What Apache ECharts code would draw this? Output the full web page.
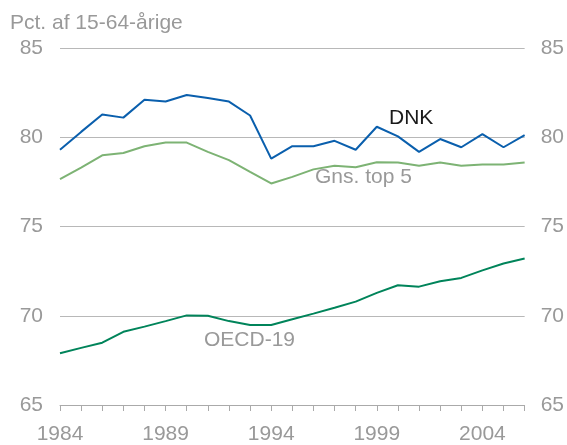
<!DOCTYPE html>
<html>
<head>
<meta charset="utf-8">
<script src="https://cdn.jsdelivr.net/npm/echarts@6/dist/echarts.min.js"></script>
<style>
    html, body { margin: 0; padding: 0; background: #fff; }
    #chart { width: 567px; height: 445px; }
</style>
</head>
<body>
<div id="chart"></div>
<script>
'use strict';

var years = ['1984', '1985', '1986', '1987', '1988', '1989', '1990', '1991', '1992', '1993', '1994',
    '1995', '1996', '1997', '1998', '1999', '2000', '2001', '2002', '2003', '2004', '2005', '2006'];

var dnk = [79.3, 80.3, 81.28, 81.1, 82.1, 82.0, 82.37, 82.2, 82.0, 81.22, 78.8,
    79.5, 79.5, 79.8, 79.3, 80.59, 80.05, 79.18, 79.9, 79.44, 80.18, 79.44, 80.12];

var top5 = [77.65, 78.3, 78.99, 79.12, 79.5, 79.7, 79.7, 79.18, 78.72, 78.06, 77.41,
    77.78, 78.2, 78.4, 78.32, 78.6, 78.58, 78.4, 78.58, 78.4, 78.47, 78.47, 78.58];

var oecd = [67.9, 68.2, 68.49, 69.1, 69.39, 69.7, 70.02, 70.0, 69.7, 69.48, 69.48,
    69.8, 70.12, 70.45, 70.79, 71.28, 71.71, 71.63, 71.93, 72.12, 72.54, 72.93, 73.21];

var yMin = 65, yMax = 85, yStep = 5;

var grey = '#999999';
var font = 'Liberation Sans';

var chart = echarts.init(document.getElementById('chart'));

var option = {
    animation: false,
    grid: {
        left: 60,
        right: 42,
        top: 48,
        bottom: 39
    },
    xAxis: {
        type: 'category',
        boundaryGap: false,
        data: years,
        axisLine: { lineStyle: { color: '#aaaaaa', width: 1 } },
        axisTick: { interval: 0, length: 6, lineStyle: { color: '#aaaaaa' } },
        axisLabel: {
            interval: 4,
            color: grey,
            fontSize: 21,
            fontFamily: font,
            margin: 19
        },
        splitLine: { show: false }
    },
    yAxis: [
        {
            type: 'value',
            min: yMin,
            max: yMax,
            interval: yStep,
            axisLine: { show: false },
            axisTick: { show: false },
            axisLabel: { color: grey, fontSize: 21, fontFamily: font, margin: 17 },
            splitLine: { lineStyle: { color: '#b8b8b8', width: 1 } }
        },
        {
            type: 'value',
            position: 'right',
            min: yMin,
            max: yMax,
            interval: yStep,
            axisLine: { show: false },
            axisTick: { show: false },
            axisLabel: { color: grey, fontSize: 21, fontFamily: font, margin: 16 },
            splitLine: { show: false }
        }
    ],
    series: [
        {
            name: 'OECD-19',
            type: 'line',
            data: oecd,
            symbol: 'none',
            lineStyle: { color: '#00845a', width: 2 },
            z: 3
        },
        {
            name: 'Gns. top 5',
            type: 'line',
            data: top5,
            symbol: 'none',
            lineStyle: { color: '#7db374', width: 2 },
            z: 3
        },
        {
            name: 'DNK',
            type: 'line',
            data: dnk,
            symbol: 'none',
            lineStyle: { color: '#0a5fad', width: 2 },
            z: 4
        }
    ],
    graphic: [
        {
            type: 'text', left: 10, top: 13,
            style: { text: 'Pct. af 15-64-årige', fill: grey, fontSize: 21, fontFamily: font }
        },
        {
            type: 'text', left: 389, top: 108,
            style: { text: 'DNK', fill: '#1a1a1a', fontSize: 21, fontFamily: font }
        },
        {
            type: 'text', left: 315, top: 167,
            style: { text: 'Gns. top 5', fill: grey, fontSize: 21, fontFamily: font }
        },
        {
            type: 'text', left: 204, top: 330,
            style: { text: 'OECD-19', fill: grey, fontSize: 21, fontFamily: font }
        }
    ]
};

chart.setOption(option);
</script>
</body>
</html>
